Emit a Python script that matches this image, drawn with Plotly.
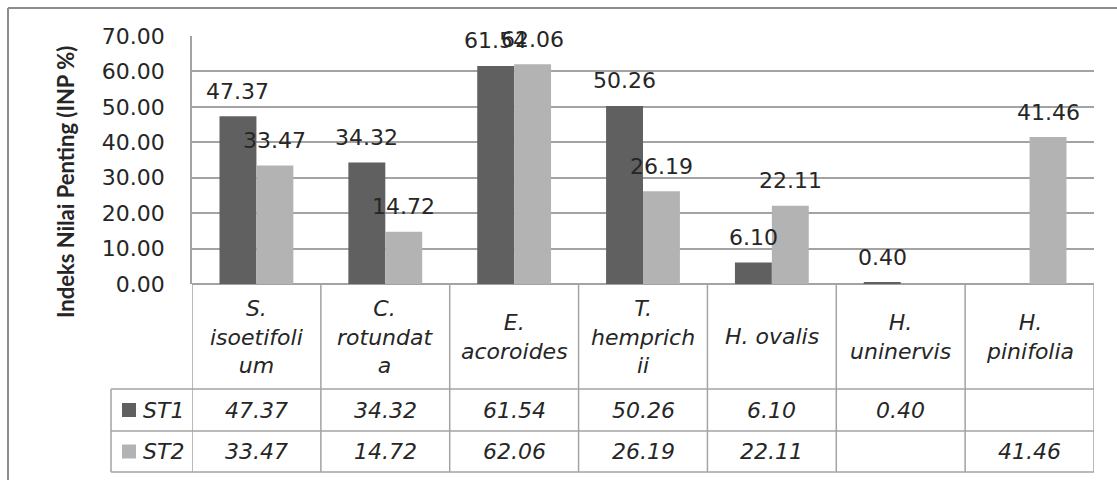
import plotly.graph_objects as go

# ---- data ----
species = ["S. isoetifolium", "C. rotundata", "E. acoroides", "T. hemprichii",
           "H. ovalis", "H. uninervis", "H. pinifolia"]
header_labels = ["S.<br>isoetifoli<br>um", "C.<br>rotundat<br>a", "E.<br>acoroides",
                 "T.<br>hemprich<br>ii", "H. ovalis", "H.<br>uninervis", "H.<br>pinifolia"]
st1 = [47.37, 34.32, 61.54, 50.26, 6.10, 0.40, None]
st2 = [33.47, 14.72, 62.06, 26.19, 22.11, None, 41.46]
series_names = ["ST1", "ST2"]
series_colors = ["#606060", "#b3b3b3"]
y_ticks = [0, 10, 20, 30, 40, 50, 60, 70]

# ---- layout geometry (pixels) ----
W, H = 1117, 480
PLOT_L, PLOT_R = 192, 1094
PLOT_T, PLOT_B = 36, 284
HEAD_B, ROW1_B, ROW2_B = 389, 431, 472
LEG_L = 111

def px(x):
    return x / W

def py(y):
    return 1 - y / H

TXT = "#262626"
GRID = "#a3a3a3"
FONT = "DejaVu Sans"
FS = 22

fig = go.Figure()
for name, vals, col in zip(series_names, [st1, st2], series_colors):
    fig.add_trace(go.Bar(x=species, y=vals, name=name, marker_color=col,
                         marker_line_width=0, showlegend=False))

annotations = []
shapes = []

# value labels above the bars
cat_w = (PLOT_R - PLOT_L) / len(species)
bar_w = cat_w * (1 - 0.427) / 2
for k, vals in enumerate([st1, st2]):
    shift = (-0.5 if k == 0 else 0.5) * bar_w
    for s, v in zip(species, vals):
        if v is None:
            continue
        annotations.append(dict(x=s, y=v, xref="x", yref="y", text=f"{v:.2f}",
                                showarrow=False, xshift=shift, yshift=25,
                                yanchor="middle", xanchor="center",
                                font=dict(family=FONT, size=FS, color=TXT)))

# data table below the plot
for i, (s, lab) in enumerate(zip(species, header_labels)):
    annotations.append(dict(x=s, y=py((PLOT_B + HEAD_B) / 2), xref="x", yref="paper",
                            text=f"<i>{lab}</i>", showarrow=False, yanchor="middle",
                            font=dict(family=FONT, size=FS, color=TXT)))
    for vals, (r0, r1) in zip([st1, st2], [(HEAD_B, ROW1_B), (ROW1_B, ROW2_B)]):
        if vals[i] is None:
            continue
        annotations.append(dict(x=s, y=py((r0 + r1) / 2), xref="x", yref="paper",
                                text=f"<i>{vals[i]:.2f}</i>", showarrow=False,
                                yanchor="middle",
                                font=dict(family=FONT, size=FS, color=TXT)))

# legend keys inside the table
for name, col, (r0, r1) in zip(series_names, series_colors,
                               [(HEAD_B, ROW1_B), (ROW1_B, ROW2_B)]):
    cy = (r0 + r1) / 2
    shapes.append(dict(type="rect", xref="paper", yref="paper",
                       x0=px(122), x1=px(136), y0=py(cy + 7), y1=py(cy - 7),
                       fillcolor=col, line_width=0))
    annotations.append(dict(x=px(141), y=py(cy), xref="paper", yref="paper",
                            text=f"<i>{name}</i>", showarrow=False,
                            xanchor="left", yanchor="middle",
                            font=dict(family=FONT, size=FS, color=TXT)))

# table grid
for yy in [HEAD_B, ROW1_B, ROW2_B]:
    shapes.append(dict(type="line", xref="paper", yref="paper",
                       x0=px(LEG_L), x1=px(PLOT_R), y0=py(yy), y1=py(yy),
                       line=dict(color=GRID, width=1.5)))
shapes.append(dict(type="line", xref="paper", yref="paper",
                   x0=px(LEG_L), x1=px(LEG_L), y0=py(HEAD_B), y1=py(ROW2_B),
                   line=dict(color=GRID, width=1.5)))
for i in range(len(species) + 1):
    shapes.append(dict(type="line", xref="x", yref="paper",
                       x0=i - 0.5, x1=i - 0.5, y0=py(PLOT_B), y1=py(ROW2_B),
                       line=dict(color=GRID, width=1.5)))

# chart frame (left and top edges)
FRAME = "#8c8c8c"
shapes.append(dict(type="line", xref="paper", yref="paper",
                   x0=px(8), x1=px(8), y0=0, y1=py(8),
                   line=dict(color=FRAME, width=2)))
shapes.append(dict(type="line", xref="paper", yref="paper",
                   x0=px(8), x1=1, y0=py(8), y1=py(8),
                   line=dict(color=FRAME, width=2)))

# axis title
annotations.append(dict(x=px(65), y=py(182), xref="paper", yref="paper",
                        text="<b>Indeks Nilai Penting (INP %)</b>", textangle=-90,
                        showarrow=False, xanchor="center", yanchor="middle",
                        font=dict(family="Lato", size=22, color=TXT)))

fig.update_layout(
    width=W, height=H,
    margin=dict(l=0, r=0, t=0, b=0, autoexpand=False),
    paper_bgcolor="white", plot_bgcolor="white",
    barmode="group", bargap=0.427, bargroupgap=0,
    annotations=annotations, shapes=shapes,
    xaxis=dict(domain=[px(PLOT_L), px(PLOT_R)], range=[-0.5, len(species) - 0.5],
               automargin=False,
               showticklabels=False, showgrid=False, zeroline=False, showline=False),
    yaxis=dict(domain=[py(PLOT_B), py(PLOT_T)], range=[0, 70],
               automargin=False,
               tickvals=y_ticks, tickformat=".2f",
               showgrid=True, gridcolor=GRID, gridwidth=1.5,
               zeroline=True, zerolinecolor=GRID, zerolinewidth=1.5,
               showline=True, linecolor=GRID, linewidth=1.5,
               ticks="", ticklabelstandoff=21,
               tickfont=dict(family=FONT, size=FS, color=TXT)),
)

fig.write_html("out.html")
